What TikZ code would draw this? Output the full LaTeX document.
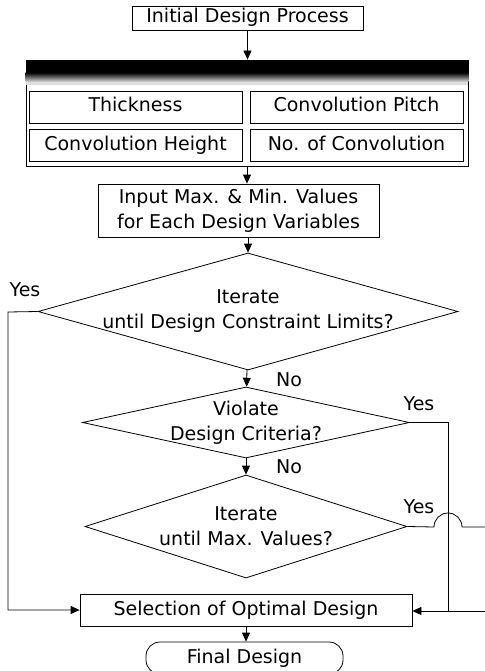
\documentclass[tikz,border=0pt]{standalone}
\usepackage{fontspec}
\setmainfont{DejaVu Sans}
\usetikzlibrary{arrows.meta,shapes.geometric}

\begin{document}
\begin{tikzpicture}[x=1pt,y=-1pt,line width=0.8pt,
  font=\fontsize{19}{25}\selectfont,
  box/.style={draw,rectangle,inner sep=0pt,align=center},
  onebox/.style={box,text height=14pt,text depth=4pt},
  cell/.style={onebox,minimum width=213pt,minimum height=32pt},
  dia/.style={draw,diamond,inner sep=0pt},
  txt/.style={align=center,inner sep=0pt},
  arr/.style={-{Triangle[length=9pt,width=8pt]}}]
\useasboundingbox (0,0) rectangle (484,671);
\node [onebox, minimum width=231pt, minimum height=24pt] (init) at (247.5,18) {Initial Design Process};
\node [box, minimum width=442pt, minimum height=106pt] (pan) at (247,113) {};
\fill [black] (pan.north west) rectangle ([yshift=-13pt]pan.north east);
\shade [top color=black, bottom color=gray!35] ([yshift=-13pt]pan.north west) rectangle ([yshift=-22pt]pan.north east);
\fill [gray!25] ([yshift=-22pt]pan.north west) rectangle ([yshift=-25pt]pan.north east);
\node [cell] (thick) at (135.5,107) {Thickness};
\node [cell] (pitch) at (356.5,107) {Convolution Pitch};
\node [cell] (height) at (135.5,145) {Convolution Height};
\node [cell] (numconv) at (356.5,145) {No. of Convolution};
\node [box, minimum width=281pt, minimum height=53pt] (inp) at (238.5,210.5) {Input Max. \& Min. Values\\for Each Design Variables};
\node [dia, minimum width=420pt, minimum height=117pt] (d1) at (248,311.5) {};
\node [txt] at (d1) {Iterate\\until Design Constraint Limits?};
\node [dia, minimum width=327pt, minimum height=71pt] (d2) at (246,422.5) {};
\node [txt] at (d2) {Violate\\Design Criteria?};
\node [dia, minimum width=322pt, minimum height=103pt] (d3) at (246,526.5) {};
\node [txt] at (d3) {Iterate\\until Max. Values?};
\node [onebox, minimum width=332pt, minimum height=32pt] (sel) at (246,610) {Selection of Optimal Design};
\node [onebox, rounded corners=14pt, minimum width=197pt, minimum height=32pt] (fin) at (244.5,658) {Final Design};
\node [txt] (yes1) at (25,290) {Yes};
\node [txt] (no1) at (289,380) {No};
\node [txt] (yes2) at (419,404) {Yes};
\node [txt] (no2) at (289,467) {No};
\node [txt] (yes3) at (419,507) {Yes};
\coordinate (lft) at (8,312);
\coordinate (j2) at (448,611);
\coordinate (hump) at (434,527);
\coordinate (rout) at (486,527);
\coordinate (rin) at (486,611);
\draw [arr] (init) -- (pan.north -| init);
\draw [arr] (pan) -- (inp.north -| pan);
\draw [arr] (inp.south -| d1.north) -- (d1.north);
\draw [arr] (d1) -- (d2);
\draw [arr] (d2) -- (d3);
\draw [arr] (sel) -- (fin.north -| sel);
\draw [arr] (d1.west) -- (lft) |- (sel.west);
\draw (d2.east) -| (j2);
\draw (d3.east) -- (hump) arc [start angle=180, end angle=0, radius=14pt] -- (rout);
\draw [arr] (rin) -- (sel.east |- rin);
\end{tikzpicture}
\end{document}
